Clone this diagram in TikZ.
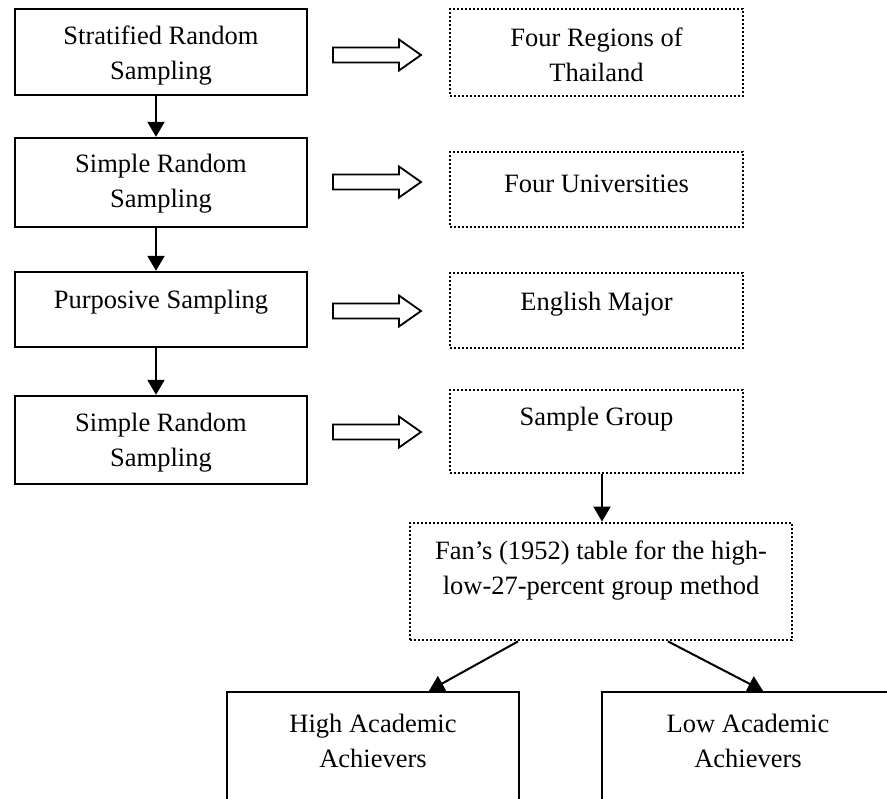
\documentclass[tikz,border=0pt]{standalone}
\usepackage{fontspec}
\setmainfont{Liberation Serif}
\usetikzlibrary{arrows.meta}
\tikzset{
  solidbox/.style={draw, line width=1.2pt, inner sep=0pt, minimum width=146pt},
  dotbox/.style={draw, line width=1.4pt, dash pattern=on 1.1pt off 0.9pt, inner sep=0pt, minimum width=146.5pt},
  txt/.style={inner sep=0pt, align=center, font=\fontsize{13.25}{17.5}\selectfont},
  arr/.style={line width=1pt, -{Triangle[length=7.5pt,width=8.5pt]}},
  pics/harrow/.style={code={\draw[line width=0.9pt, line join=miter] (0,-7.5) -- (66,-7.5) -- (66,-15.5) -- (88,0) -- (66,15.5) -- (66,7.5) -- (0,7.5) -- cycle;}}
}
\begin{document}
\begin{tikzpicture}[x=0.5pt,y=-0.5pt]
\clip (0,0) rectangle (887,798);
\fill[white] (0,0) rectangle (887,798);
% left column
\node[solidbox, minimum height=43pt] (b1) at (161,52) {};
\node[txt] (t1) at (161,56) {Stratified Random\\Sampling};
\node[solidbox, minimum height=44.5pt] (b2) at (161,182.5) {};
\node[txt] (t2) at (161,184) {Simple Random\\Sampling};
\node[solidbox, minimum height=37.5pt] (b3) at (161,309.5) {};
\node[txt] (t3) at (161,302) {Purposive Sampling};
\node[solidbox, minimum height=44pt] (b4) at (161,440) {};
\node[txt] (t4) at (161,443) {Simple Random\\Sampling};
% right column
\node[dotbox, minimum height=43.5pt] (a1) at (596.5,52.5) {};
\node[txt] (s1) at (596.5,55) {Four Regions of\\Thailand};
\node[dotbox, minimum height=37.5pt] (a2) at (596.5,189.5) {};
\node[txt] (s2) at (596.5,184) {Four Universities};
\node[dotbox, minimum height=37.5pt] (a3) at (596.5,310.5) {};
\node[txt] (s3) at (596.5,304) {English Major};
\node[dotbox, minimum height=41.5pt] (a4) at (596.5,431.5) {};
\node[txt] (s4) at (596.5,419) {Sample Group};
% Fan box
\node[dotbox, minimum width=191pt, minimum height=58.5pt] (fan) at (601,581.5) {};
\node[txt] (tf) at (601,571) {Fan’s (1952) table for the high-\\low-27-percent group method};
% bottom boxes
\node[solidbox, minimum height=55pt] (hi) at (373,747) {};
\node[txt] (th) at (373,741) {High Academic\\Achievers};
\node[solidbox, minimum height=55pt] (lo) at (748,747) {};
\node[txt] (tl) at (748,741) {Low Academic\\Achievers};
% vertical arrows
\draw[arr] ([xshift=-2.5pt]b1.south) -- ([xshift=-2.5pt]b2.north);
\draw[arr] ([xshift=-2.5pt]b2.south) -- ([xshift=-2.5pt]b3.north);
\draw[arr] ([xshift=-2.5pt]b3.south) -- ([xshift=-2.5pt]b4.north);
\draw[arr] ([xshift=0.5pt]a4.south -| fan.north) -- ([xshift=0.5pt]fan.north);
% diagonal arrows
\draw[arr] ([xshift=-41.5pt]fan.south) -- ([xshift=28pt]hi.north);
\draw[arr] ([xshift=33.5pt]fan.south) -- ([xshift=7.5pt]lo.north);
% hollow arrows
\pic at (333,55) {harrow};
\pic at (333,182) {harrow};
\pic at (333,311) {harrow};
\pic at (333,432) {harrow};
\end{tikzpicture}
\end{document}
